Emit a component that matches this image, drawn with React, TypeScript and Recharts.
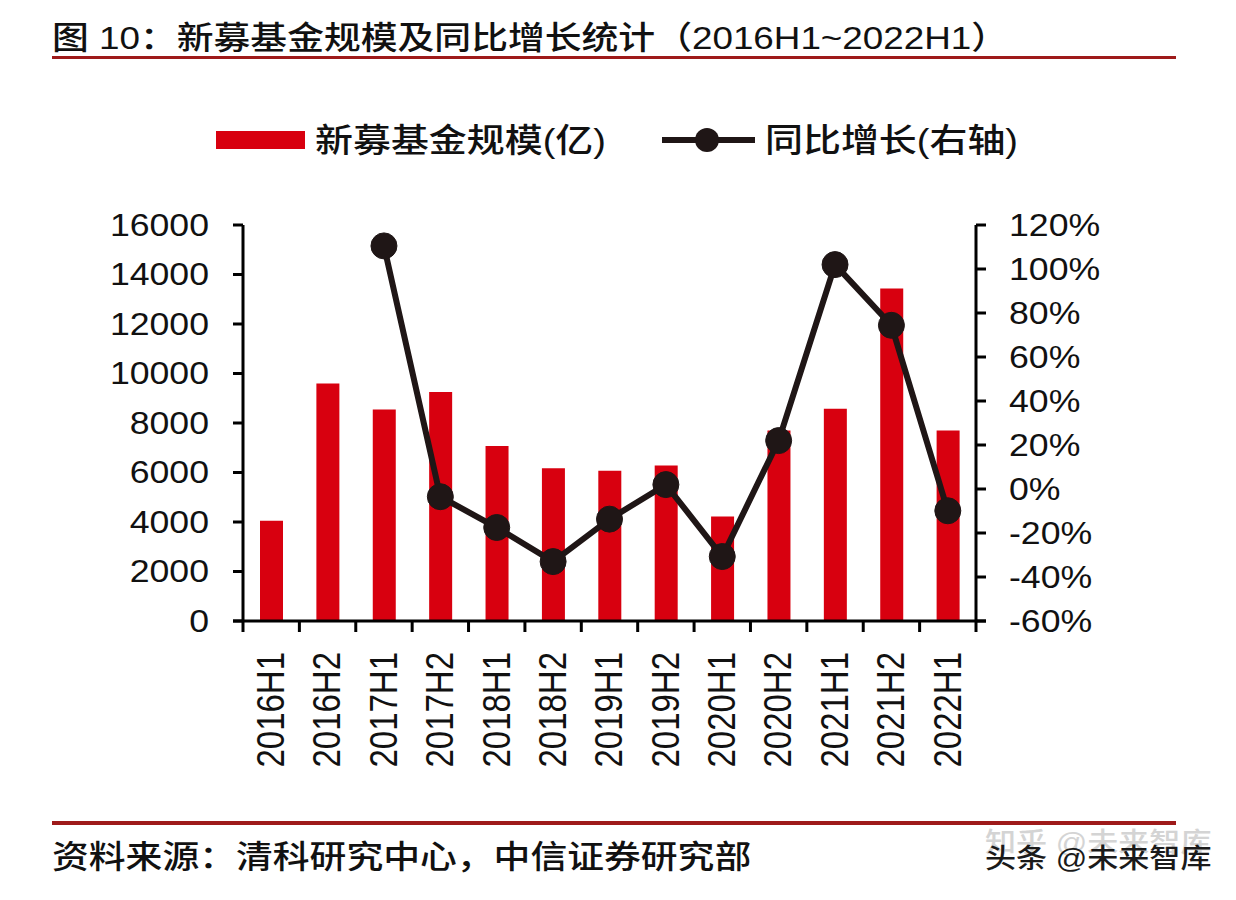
import React from 'react';
import {
  ComposedChart,
  Bar,
  Line,
  XAxis,
  YAxis,
} from 'recharts';

const periods = [
  '2016H1', '2016H2', '2017H1', '2017H2', '2018H1', '2018H2', '2019H1',
  '2019H2', '2020H1', '2020H2', '2021H1', '2021H2', '2022H1',
];
const fundSize = [4050, 9600, 8550, 9250, 7075, 6170, 6075, 6280, 4225, 7700, 8575, 13430, 7700];
const yoyGrowth = [null, null, 110.5, -3.5, -17.5, -33, -13.7, 2, -30.7, 22, 102, 74.4, -9.9];
const leftTicks = [0, 2000, 4000, 6000, 8000, 10000, 12000, 14000, 16000];
const rightTicks = [-60, -40, -20, 0, 20, 40, 60, 80, 100, 120];

const data = periods.map((p, i) => ({ period: p, size: fundSize[i], growth: yoyGrowth[i] }));

const RED = '#d8000f';
const LINE = '#1f1616';
const RULE = '#9e1a1a';
const SX = 1.15;
const LATIN = '"Liberation Sans", Arial, "Noto Sans CJK SC", sans-serif';

const LeftTick = (props: any) => {
  const { x, y, payload } = props;
  return (
    <text transform={`translate(${x},${y}) scale(${SX},1)`} textAnchor="end" dominantBaseline="central"
      fontSize={31} fontFamily={LATIN} fill="#111">
      {payload.value}
    </text>
  );
};

const RightTick = (props: any) => {
  const { x, y, payload } = props;
  return (
    <text transform={`translate(${x},${y}) scale(${SX},1)`} textAnchor="start" dominantBaseline="central"
      fontSize={31} fontFamily={LATIN} fill="#111">
      {payload.value}%
    </text>
  );
};

// Excel style: tick marks sit on the band edges, axis line overshoots a little
const BottomTick = (props: any) => {
  const { x, y, payload, index } = props;
  const half = payload.offset || 28.2;
  const axisY = y - 31;
  const last = index === periods.length - 1;
  return (
    <g>
      <line x1={x - half} x2={x - half} y1={axisY} y2={axisY + 11} stroke="#000" strokeWidth={3} />
      {index === 0 && (
        <line x1={x - half - 10} x2={x - half} y1={axisY} y2={axisY} stroke="#000" strokeWidth={3} />
      )}
      {last && (
        <>
          <line x1={x + half} x2={x + half} y1={axisY} y2={axisY + 11} stroke="#000" strokeWidth={3} />
          <line x1={x + half} x2={x + half + 10} y1={axisY} y2={axisY} stroke="#000" strokeWidth={3} />
        </>
      )}
      <text transform={`translate(${x},${y}) scale(${SX},1) rotate(-90)`} textAnchor="end"
        dominantBaseline="central" fontSize={33} fontFamily={LATIN} fill="#111">
        {payload.value}
      </text>
    </g>
  );
};

const textStyle = (top: number, left: number, size: number, color = '#111'): React.CSSProperties => ({
  position: 'absolute',
  top,
  left,
  fontSize: size,
  lineHeight: `${size}px`,
  color,
  whiteSpace: 'nowrap',
  fontFamily: LATIN,
  fontWeight: 500,
  transform: `scaleX(${SX})`,
  transformOrigin: 'left center',
});

export default function App() {
  return (
    <div style={{ position: 'absolute', left: 0, top: 0, width: 1236, height: 900, background: '#fff', overflow: 'hidden' }}>
      <div style={textStyle(22, 52, 32)}>图 10：新募基金规模及同比增长统计（2016H1~2022H1）</div>
      <div style={{ position: 'absolute', left: 52, top: 56, width: 1124, height: 3, background: RULE }} />

      <div style={{ position: 'absolute', left: 216, top: 131, width: 89, height: 18, background: RED }} />
      <div style={textStyle(124, 315, 33)}>新募基金规模(亿)</div>
      <svg style={{ position: 'absolute', left: 660, top: 125 }} width={100} height={30}>
        <line x1={2} x2={95} y1={15} y2={15} stroke={LINE} strokeWidth={6} />
        <circle cx={47} cy={15} r={12} fill={LINE} />
      </svg>
      <div style={textStyle(124, 765, 33)}>同比增长(右轴)</div>

      <div style={{ position: 'absolute', left: 0, top: 0 }}>
        <ComposedChart width={1236} height={900} data={data}
          margin={{ top: 225, right: 120, bottom: 109, left: 123 }} barSize={23}>
          <XAxis dataKey="period" interval={0} height={170} tickSize={10} tickMargin={21}
            axisLine={{ stroke: '#000', strokeWidth: 3 }} tickLine={false} tick={<BottomTick />} />
          <YAxis yAxisId="left" orientation="left" width={120} domain={[0, 16000]} ticks={leftTicks}
            tickSize={10} tickMargin={24} axisLine={{ stroke: '#000', strokeWidth: 3 }}
            tickLine={{ stroke: '#000', strokeWidth: 3 }} tick={<LeftTick />} />
          <YAxis yAxisId="right" orientation="right" width={140} domain={[-60, 120]} ticks={rightTicks}
            tickSize={10} tickMargin={23} axisLine={{ stroke: '#000', strokeWidth: 3 }}
            tickLine={{ stroke: '#000', strokeWidth: 3 }} tick={<RightTick />} />
          <Bar yAxisId="left" dataKey="size" fill={RED} isAnimationActive={false} />
          <Line yAxisId="right" dataKey="growth" stroke={LINE} strokeWidth={6}
            dot={{ r: 13, fill: LINE, stroke: LINE, strokeWidth: 1 }} isAnimationActive={false} />
        </ComposedChart>
      </div>

      <div style={{ position: 'absolute', left: 52, top: 821, width: 1124, height: 4, background: RULE }} />
      <div style={textStyle(841, 52, 32)}>资料来源：清科研究中心，中信证券研究部</div>
      <div style={textStyle(830, 985, 27, '#d4d4d4')}>知乎 @未来智库</div>
      <div style={textStyle(846, 985, 27, '#1a1a1a')}>头条 @未来智库</div>
    </div>
  );
}
